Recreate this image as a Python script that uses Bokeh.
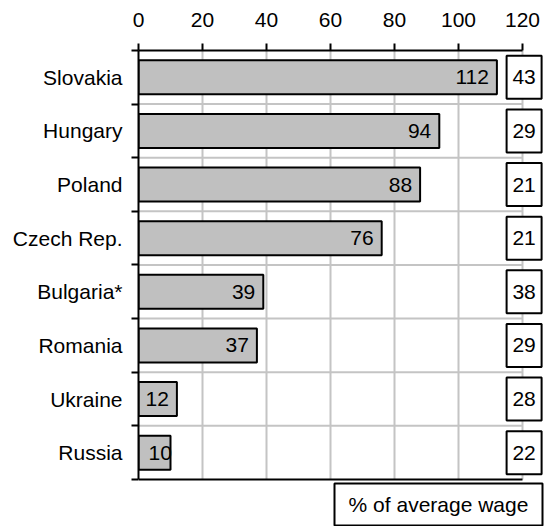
from bokeh.plotting import figure
from bokeh.models import FixedTicker, Range1d
from bokeh.core.properties import value
from bokeh.embed import file_html
from bokeh.resources import INLINE

countries = ["Slovakia", "Hungary", "Poland", "Czech Rep.", "Bulgaria*", "Romania", "Ukraine", "Russia"]
bar_values = [112, 94, 88, 76, 39, 37, 12, 10]
box_values = [43, 29, 21, 21, 38, 29, 28, 22]
x_ticks = [0, 20, 40, 60, 80, 100, 120]
legend_text = "% of average wage"

FONT = "Liberation Sans"
FS = "21px"
n = len(countries)
ypos = [n - i for i in range(n)]              # Slovakia on top
bounds_y = [k + 0.5 for k in range(n + 1)]    # band boundaries
x_max = x_ticks[-1]

p = figure(width=548, height=526, output_backend="svg", toolbar_location=None,
           x_range=Range1d(0, 128.125), y_range=Range1d(0.5 - 0.8765, n + 0.5),
           x_axis_location="above", min_border_left=138, min_border_right=0,
           min_border_top=50, min_border_bottom=0, outline_line_color=None)
p.background_fill_color = "white"
p.border_fill_color = "white"
p.xgrid.grid_line_color = None
p.ygrid.grid_line_color = None

GRID = "#c4c4c4"
# grid lines
vx = [t for t in x_ticks if t > 0]
p.segment(x0=vx, x1=vx, y0=[bounds_y[0]] * len(vx), y1=[bounds_y[-1]] * len(vx),
          line_color=GRID, line_width=2)
hy = bounds_y[1:-1]
p.segment(x0=[0] * len(hy), x1=[x_max] * len(hy), y0=hy, y1=hy,
          line_color=GRID, line_width=2)
# bottom axis line
p.segment(x0=[0], x1=[x_max], y0=[bounds_y[0]], y1=[bounds_y[0]],
          line_color="black", line_width=2)

# bars
p.hbar(y=ypos, right=bar_values, left=0, height=0.634, fill_color="#c0c0c0",
       line_color="black", line_width=2)

# bar labels
big = [(v, y) for v, y in zip(bar_values, ypos) if v >= 11]
small = [(v, y) for v, y in zip(bar_values, ypos) if v < 11]
p.text(x=[v for v, _ in big], y=[y for _, y in big], text=[str(v) for v, _ in big],
       text_align="right", text_baseline="middle", x_offset=-8,
       text_font=value(FONT), text_font_size=FS, text_color="black")
p.text(x=[0] * len(small), y=[y for _, y in small], text=[str(v) for v, _ in small],
       text_align="left", text_baseline="middle", x_offset=10,
       text_font=value(FONT), text_font_size=FS, text_color="black")

# right boxes
box_x = x_max + 0.5
p.rect(x=[box_x] * n, y=ypos, width=35, height=43, width_units="screen",
       height_units="screen", fill_color="white", line_color="black", line_width=2)
p.text(x=[box_x] * n, y=ypos, text=[str(v) for v in box_values],
       text_align="center", text_baseline="middle",
       text_font=value(FONT), text_font_size=FS, text_color="black")

# legend-like box
lx, ly = 93.75, 0.5 - 0.466
p.rect(x=[lx], y=[ly], width=208, height=42, width_units="screen", height_units="screen",
       fill_color="white", line_color="black", line_width=2)
p.text(x=[lx], y=[ly], text=[legend_text], text_align="center", text_baseline="middle",
       text_font=value(FONT), text_font_size=FS, text_color="black")

# top axis
xa = p.xaxis[0]
xa.ticker = FixedTicker(ticks=x_ticks)
xa.bounds = (0, x_max)
xa.major_tick_out = 7
xa.major_tick_in = 0
xa.minor_tick_out = 0
xa.minor_tick_in = 0
xa.axis_line_width = 2
xa.major_tick_line_width = 2
xa.axis_line_color = "black"
xa.major_tick_line_color = "black"
xa.major_label_text_font = FONT
xa.major_label_text_font_size = FS
xa.major_label_text_color = "black"
xa.major_label_standoff = 17

# left axis
ya = p.yaxis[0]
ya.ticker = FixedTicker(ticks=ypos, minor_ticks=bounds_y)
ya.bounds = (bounds_y[0], bounds_y[-1])
ya.major_label_overrides = {y: c for y, c in zip(ypos, countries)}
ya.major_tick_out = 0
ya.major_tick_in = 0
ya.minor_tick_out = 7
ya.minor_tick_in = 0
ya.minor_tick_line_width = 2
ya.minor_tick_line_color = "black"
ya.axis_line_width = 2
ya.axis_line_color = "black"
ya.major_label_text_font = FONT
ya.major_label_text_font_size = FS
ya.major_label_text_color = "black"
ya.major_label_standoff = 9

open("out.html", "w").write(file_html(p, INLINE))
